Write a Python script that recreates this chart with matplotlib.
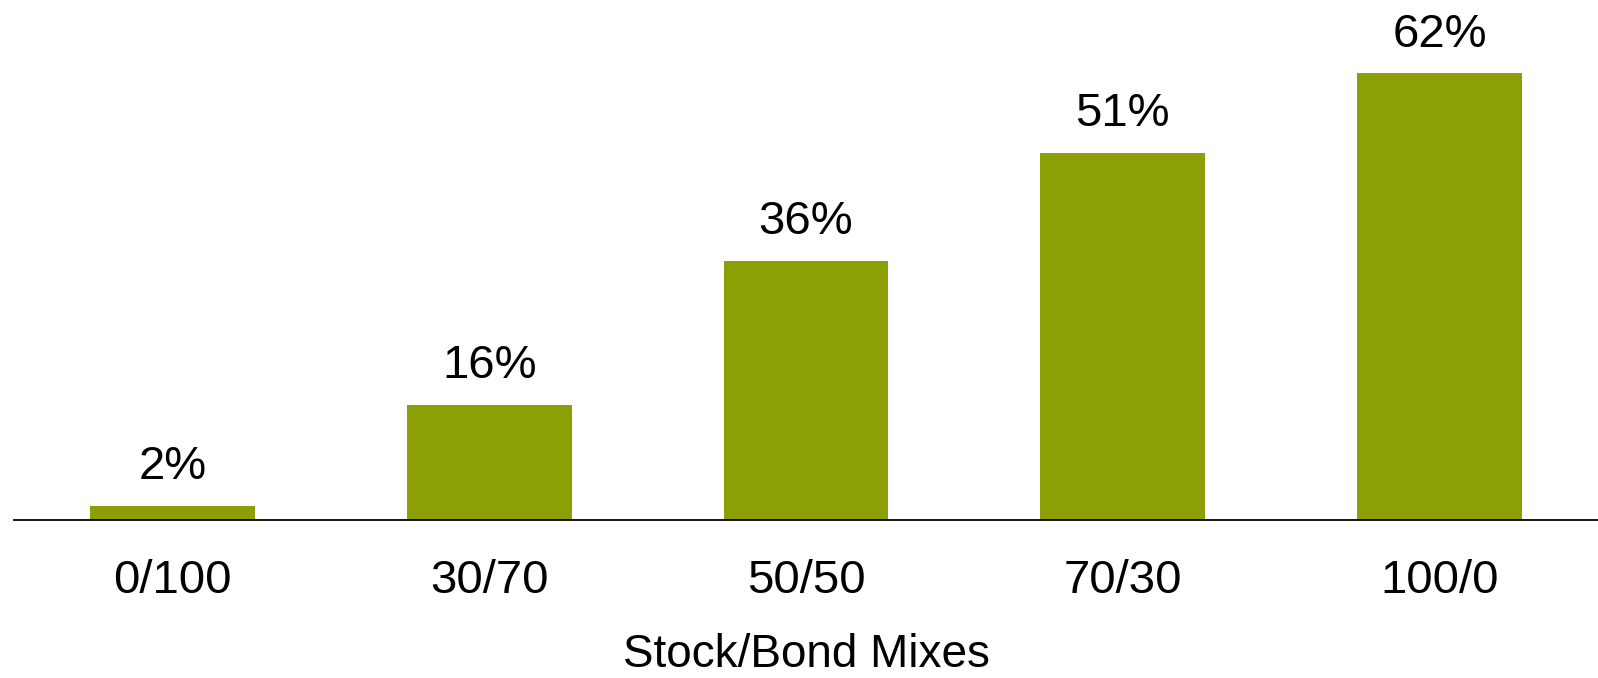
import matplotlib
matplotlib.use("Agg")
import matplotlib.pyplot as plt

plt.rcParams['font.family'] = ['Liberation Sans', 'DejaVu Sans']

mixes = ["0/100", "30/70", "50/50", "70/30", "100/0"]
values = [2, 16, 36, 51, 62]
bar_color = "#8CA005"

W, H = 1598, 678
fig = plt.figure(figsize=(W / 100, H / 100), dpi=100)
ax = fig.add_axes([14 / W, (H - 520) / H, (W - 14) / W, 520 / H])

x = range(len(mixes))
bars = ax.bar(x, values, width=0.52, color=bar_color)
for b, v in zip(bars, values):
    ax.annotate(f"{v}%", (b.get_x() + b.get_width() / 2, v),
                xytext=(0, 12), textcoords="offset points",
                ha="center", va="bottom", fontsize=34)

ax.set_xlim(-0.5, 4.5)
ax.set_ylim(0, 72.2)
ax.set_xticks(list(x))
ax.set_xticklabels(mixes, fontsize=34)
ax.tick_params(axis="x", length=0, pad=28)
ax.set_yticks([])
for s in ["top", "right", "left"]:
    ax.spines[s].set_visible(False)
ax.spines["bottom"].set_linewidth(1.3)
ax.set_xlabel("Stock/Bond Mixes", fontsize=33, labelpad=22)

fig.savefig("out.png", dpi=100)
